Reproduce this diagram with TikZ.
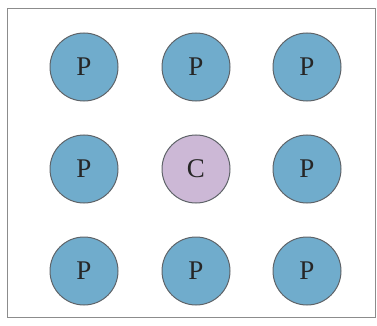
\documentclass[tikz,border=0pt]{standalone}
\usepackage{fontspec}
\setmainfont{Liberation Serif}
\usetikzlibrary{positioning}
\definecolor{cellB}{RGB}{112,172,204}
\definecolor{cellC}{RGB}{204,184,214}
\definecolor{rimG}{RGB}{95,100,105}

\begin{document}
\begin{tikzpicture}[x=1pt,y=-1pt,
  cell/.style={circle,draw=rimG,line width=1pt,fill=cellB,minimum size=68pt,inner sep=0pt,
    font=\fontsize{27}{27}\selectfont,text=black!85},
  centre/.style={cell,fill=cellC}]
\useasboundingbox (0,0) rectangle (377,326);
% frame
\draw[black!45,line width=0.8pt] (7,8) rectangle (375,317);
% outer cells
\foreach \n/\x/\y in {p11/84/67,p12/196/67,p13/307/67,
                      p21/84/169,p23/307/169,
                      p31/84/271,p32/196/271,p33/307/271}
  \node[cell] (\n) at (\x,\y) {P};
% centre cell
\node[centre] (c) at (196,169) {C};
\end{tikzpicture}
\end{document}
